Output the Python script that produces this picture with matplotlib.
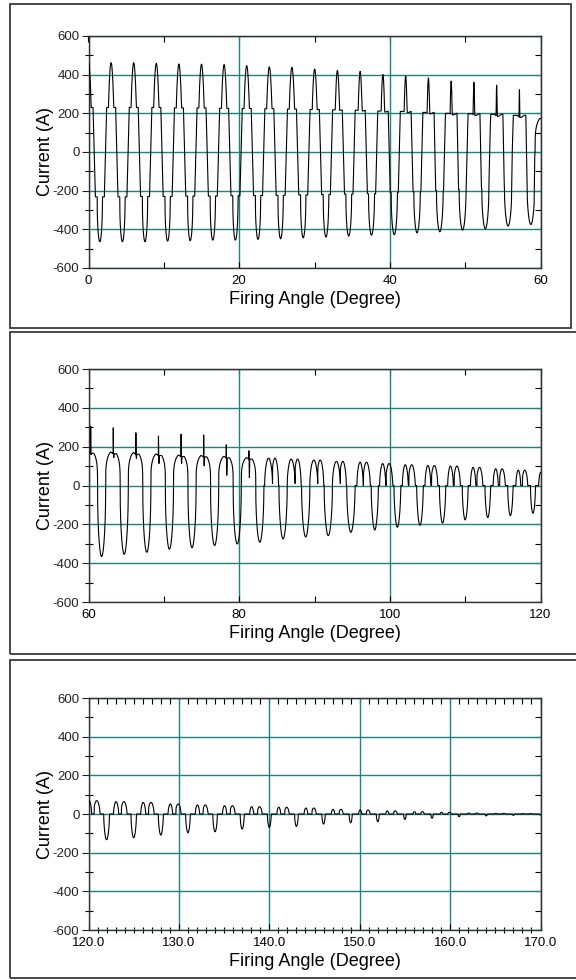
import numpy as np
import matplotlib
matplotlib.use('Agg')
import matplotlib.pyplot as plt
from matplotlib.patches import Rectangle
from matplotlib.ticker import MultipleLocator, FormatStrFormatter

plt.rcParams['font.family'] = ['Liberation Sans', 'DejaVu Sans']
plt.rcParams['axes.unicode_minus'] = False

# ---------------- data ----------------
# one supply cycle = 3 degrees of firing-angle sweep; cycle k starts at 3k deg
cycle_deg = 3.0
# positive peak / spike top (cycles 0..27)
peak_pos = [464, 462, 462, 459, 455, 454, 452, 447, 440, 438, 430, 423, 419, 404, 397,
            388, 373, 368, 354, 332, 313, 304, 278, 261, 270, 266, 215, 184]
# bottom of the notch that follows the spike (cycles 20..27)
notch_low = [165, 150, 146, 119, 119, 107, 58, 46]
# positive plateau / hump level (cycles 0..56)
pos_level = [230, 230, 230, 230, 228, 228, 226, 225, 224, 222, 220, 218, 216, 212, 210,
             205, 200, 198, 195, 190,
             180, 178, 175, 168, 162, 160, 155, 148, 141, 136, 131, 124, 120, 113, 107,
             103, 100, 93, 86, 79,
             69, 64, 60, 52, 47, 43, 38, 35, 31, 24, 21, 16, 12, 9, 5, 3, 2]
# negative step level (cycles 0..19)
neg_step = [232, 232, 230, 230, 228, 228, 226, 225, 224, 222, 220, 218, 216, 210, 205,
            200, 195, 190, 185, 180]
# negative trough depth (cycles 0..56)
trough = [464, 464, 464, 461, 459, 456, 456, 452, 449, 444, 440, 435, 430, 428, 418,
          413, 404, 397, 383, 375,
          366, 354, 344, 328, 320, 309, 301, 292, 275, 265, 258, 241, 229, 215, 205,
          194, 177, 165, 155, 143,
          133, 123, 109, 97, 92, 78, 69, 64, 52, 45, 40, 28, 22, 14, 10, 7, 5]
first_sample = [-470, None, 0]   # value of the first recorded sample in each panel

panel_ranges = [(0, 60), (60, 120), (120, 170)]
panel_major = [20, 20, 10]
panel_minor = [10, 10, 1]
panel_fmt = ['%d', '%d', '%.1f']
y_ticks = [-600, -400, -200, 0, 200, 400, 600]
xlabel = 'Firing Angle (Degree)'
ylabel = 'Current (A)'

# ---------------- waveform assembly ----------------
t = np.arange(-3.0, 171.0, 0.004)
y = np.zeros_like(t)


def bump(t0, t1, q, start=0.0):
    u = (t - t0) / (t1 - t0)
    out = np.zeros_like(t)
    m = (u > 0) & (u < 1)
    out[m] = np.sin(np.pi * (start + (1 - start) * u[m])) ** q
    return out


def trap(a, b, c, d):
    return np.clip(np.minimum((t - a) / (b - a), (d - t) / (d - c)), 0, 1)


def lerp(a, b, w):
    return a + (b - a) * w


for k in range(len(pos_level)):
    b0 = k * cycle_deg
    S = pos_level[k]
    N = trough[k]
    if k < 20:
        w = float(np.clip((k - 9) / 10.0, 0, 1))
        P = peak_pos[k]
        Sn = neg_step[k]
        pa, pb, pc, pd = -0.75, lerp(-0.60, -0.62, w), lerp(0.60, 1.05, w), lerp(0.75, 1.15, w)
        na, nb, nc, nd = pd, lerp(0.90, 1.22, w), lerp(2.10, 2.15, w), 2.25
        y += S * trap(b0 + pa, b0 + pb, b0 + pc, b0 + pd)
        y -= Sn * trap(b0 + na, b0 + nb, b0 + nc, b0 + nd)
        pkc, pkw = lerp(0.0, 0.2, w), lerp(0.35, 0.05, w)
        y += (P - S) * bump(b0 + pkc - pkw, b0 + pkc + pkw, lerp(0.8, 1.0, w))
        y -= 0.06 * S * w * bump(b0 - 0.1, b0 + 0.8, 1.0)
        tc, tw = lerp(1.5, 1.72, w), lerp(0.35, 0.5, w)
        y -= (N - Sn) * bump(b0 + tc - tw, b0 + tc + tw, lerp(0.4, 0.5, w))
    elif k < 28:
        P = peak_pos[k]
        low = notch_low[k - 20]
        y += S * bump(b0 - 0.72, b0 + 1.2, 0.25)
        y -= 0.08 * S * bump(b0 - 0.05, b0 + 0.7, 1.0)
        y += (P - 0.95 * S) * bump(b0 + 0.27, b0 + 0.31, 1.0)
        y -= (0.95 * S - low) * bump(b0 + 0.31, b0 + 0.40, 1.0)
        y -= N * bump(b0 + 1.2, b0 + 2.28, 0.45)
    elif k < 32:
        y += S * bump(b0 - 0.62, b0 + 0.43, 0.5)
        y += S * bump(b0 + 0.43, b0 + 1.22, 0.5, start=0.15)
        y -= N * bump(b0 + 1.28, b0 + 2.38, 0.5)
    else:
        r = S / 103.0
        hw = 0.12 + 0.26 * r
        ht = 0.10 + 0.32 * (N / 194.0)
        y += S * bump(b0 + 0.05 - hw, b0 + 0.05 + hw, 0.55)
        y += S * bump(b0 + 0.95 - hw - 0.03, b0 + 0.95 + hw + 0.03, 0.55, start=0.1)
        y -= N * bump(b0 + 2.0 - ht, b0 + 2.0 + ht, 0.55)

# ---------------- figure ----------------
W, H = 576, 980
fig = plt.figure(figsize=(W / 100, H / 100), dpi=100)

box_px = [(10, 4, 571, 328), (10, 332, 590, 654), (10, 660, 590, 978)]
for (x0, y0, x1, y1) in box_px:
    fig.patches.append(Rectangle((x0 / W, 1 - y1 / H), (x1 - x0) / W, (y1 - y0) / H,
                                 transform=fig.transFigure, fill=False,
                                 edgecolor='#3a3a3a', lw=1.3))

ax_px = [(88.5, 36, 540.5, 268), (88.5, 369, 540.5, 602), (88.5, 698, 540.5, 930)]
grid_c = '#1e8282'

for i, (x0, y0, x1, y1) in enumerate(ax_px):
    ax = fig.add_axes([x0 / W, 1 - y1 / H, (x1 - x0) / W, (y1 - y0) / H])
    lo, hi = panel_ranges[i]
    m = (t >= lo) & (t <= hi)
    xs, ys = t[m], y[m]
    if first_sample[i] is not None:
        xs = np.concatenate([[lo], xs])
        ys = np.concatenate([[first_sample[i]], ys])
    ax.plot(xs, ys, color='black', lw=0.8, zorder=3)
    ax.set_xlim(lo, hi)
    ax.set_ylim(-600, 600)
    ax.set_yticks(y_ticks)
    ax.yaxis.set_minor_locator(MultipleLocator(100))
    ax.xaxis.set_major_locator(MultipleLocator(panel_major[i]))
    ax.xaxis.set_minor_locator(MultipleLocator(panel_minor[i]))
    ax.xaxis.set_major_formatter(FormatStrFormatter(panel_fmt[i]))
    ax.grid(True, which='major', color=grid_c, lw=1.0)
    ax.set_axisbelow(True)
    ax.tick_params(axis='y', which='major', direction='out', length=5, width=0.8,
                   labelsize=9.5, pad=1.5, colors='#222222')
    ax.tick_params(axis='y', which='minor', direction='inout', length=6, width=0.8)
    ax.tick_params(axis='x', which='major', direction='in', length=4, width=0.8,
                   labelsize=9.5, pad=5)
    ax.tick_params(axis='x', which='minor', direction='inout' if i == 2 else 'in',
                   length=5 if i == 2 else 4, width=0.8)
    for s in ax.spines.values():
        s.set_color('#333333')
        s.set_linewidth(1.0)
    sy = ax.secondary_yaxis('right')
    sy.yaxis.set_major_locator(MultipleLocator(100))
    sy.tick_params(direction='in', length=4, width=0.8, labelright=False)
    sx = ax.secondary_xaxis('top')
    sx.xaxis.set_major_locator(MultipleLocator(panel_minor[i]))
    sx.tick_params(direction='in', length=4, width=0.8, labeltop=False)
    ax.set_ylabel(ylabel, fontsize=13)
    ax.yaxis.set_label_coords(-(x0 - 46) / (x1 - x0), 0.5)
    ax.set_xlabel(xlabel, fontsize=13)
    ax.xaxis.set_label_coords(0.5, -31 / (y1 - y0))
    ax.xaxis.label.set_va('center')
    ax.yaxis.label.set_va('center')

fig.savefig('out.png', dpi=100)
